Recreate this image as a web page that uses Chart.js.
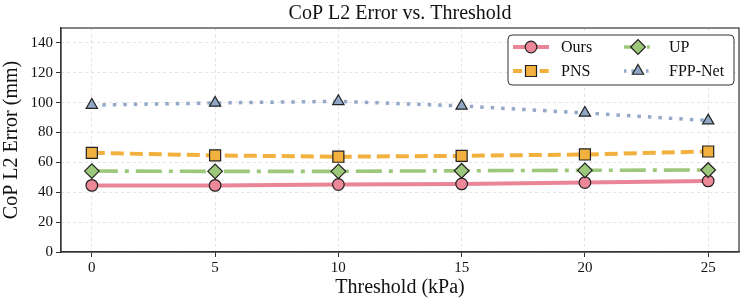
<!DOCTYPE html>
<html><head><meta charset="utf-8">
<script src="https://cdn.jsdelivr.net/npm/chart.js@4"></script>
<style>html,body{margin:0;padding:0;background:#fff}#wrap{width:748px;height:304px}</style>
</head><body><div id="wrap"><canvas id="c" width="748" height="304"></canvas></div>
<script>
const thresholds = [0, 5, 10, 15, 20, 25];
const seriesNames = ["Ours", "PNS", "UP", "FPP-Net"];
const oursValues = [44.6, 44.6, 45.2, 45.6, 46.5, 47.6];
const pnsValues  = [66.4, 64.7, 63.8, 64.4, 65.3, 67.3];
const upValues   = [54.2, 54.0, 54.0, 54.4, 54.7, 54.9];
const fppValues  = [98.4, 99.8, 100.9, 97.8, 93.1, 88.0];
const yTicks = [0, 20, 40, 60, 80, 100, 120, 140];
const xTicks = [0, 5, 10, 15, 20, 25];

const FONT = "'Liberation Serif','Times New Roman',serif";
const pts = v => v.map((y, i) => ({x: thresholds[i], y}));

const styles = [
  {color:'#e98597', fill:'#ec8898', dash:[], shape:'circle', radius:5.8, width:4},
  {color:'#f2b13f', fill:'#f2b13f', dash:[13,6], shape:'rect', radius:7.8, width:4},
  {color:'#9dc87b', fill:'#9dc87b', dash:[26,7,4,7], shape:'rectRot', radius:7.3, width:3.6},
  {color:'#93a9c7', fill:'#8fa6c4', dash:[3.5,7], shape:'triangle', radius:6.5, width:3.5}
];
const valueSets = [oursValues, pnsValues, upValues, fppValues];

const datasets = seriesNames.map((name, i) => ({
  label: name,
  data: pts(valueSets[i]),
  borderColor: styles[i].color,
  backgroundColor: styles[i].fill,
  borderWidth: styles[i].width,
  borderDash: styles[i].dash,
  pointStyle: styles[i].shape,
  pointRadius: styles[i].radius,
  pointBackgroundColor: styles[i].fill,
  pointBorderColor: '#222',
  pointBorderWidth: 1.2,
  tension: 0,
  order: 4 - i
}));

const framePlugin = {
  id: 'frame',
  afterDraw(chart) {
    const {ctx, chartArea: a} = chart;
    ctx.save();
    ctx.strokeStyle = '#333';
    ctx.lineWidth = 1.2;
    ctx.strokeRect(a.left, a.top, a.right - a.left, a.bottom - a.top);
    // legend
    const bx = 508, by = 35, bw = 226, bh = 50;
    ctx.fillStyle = 'rgba(255,255,255,0.85)';
    ctx.strokeStyle = '#333';
    ctx.lineWidth = 1;
    const r = 4;
    ctx.beginPath();
    ctx.moveTo(bx + r, by); ctx.lineTo(bx + bw - r, by); ctx.quadraticCurveTo(bx + bw, by, bx + bw, by + r);
    ctx.lineTo(bx + bw, by + bh - r); ctx.quadraticCurveTo(bx + bw, by + bh, bx + bw - r, by + bh);
    ctx.lineTo(bx + r, by + bh); ctx.quadraticCurveTo(bx, by + bh, bx, by + bh - r);
    ctx.lineTo(bx, by + r); ctx.quadraticCurveTo(bx, by, bx + r, by);
    ctx.closePath(); ctx.fill(); ctx.stroke();
    const pos = [
      {x0:513, x1:549, ty:47, tx:561},
      {x0:513, x1:549, ty:71, tx:561},
      {x0:624, x1:652, ty:47, tx:669},
      {x0:624, x1:652, ty:71, tx:669}
    ];
    chart.data.datasets.forEach((ds, i) => {
      const p = pos[i];
      ctx.save();
      ctx.strokeStyle = ds.borderColor;
      ctx.lineWidth = ds.borderWidth;
      ctx.setLineDash(ds.borderDash.length ? ds.borderDash.map(d => d * 0.7) : []);
      ctx.beginPath(); ctx.moveTo(p.x0, p.ty); ctx.lineTo(p.x1, p.ty); ctx.stroke();
      ctx.setLineDash([]);
      ctx.fillStyle = ds.pointBackgroundColor;
      ctx.strokeStyle = '#222';
      ctx.lineWidth = 1.2;
      Chart.helpers.drawPoint(ctx, {pointStyle: ds.pointStyle, radius: ds.pointRadius, borderWidth: 1.2}, (p.x0 + p.x1) / 2, p.ty);
      ctx.restore();
      ctx.fillStyle = '#111';
      ctx.font = '16px ' + FONT;
      ctx.textBaseline = 'middle';
      ctx.textAlign = 'left';
      ctx.fillText(ds.label, p.tx, p.ty + 1);
    });
    ctx.restore();
  }
};

const gridOpts = {color: '#dcdcdc', tickBorderDash: [], tickColor: '#333', tickLength: 5, lineWidth: 0.8, tickWidth: 1};
const borderOpts = {display: true, color: '#333', width: 1.2, dash: [3, 3]};

new Chart(document.getElementById('c'), {
  type: 'line',
  data: {datasets},
  plugins: [framePlugin],
  options: {
    responsive: false,
    animation: false,
    layout: {padding: {top: 0, right: 9, bottom: 0, left: 0}},
    plugins: {
      legend: {display: false},
      tooltip: {enabled: false},
      title: {
        display: true, text: 'CoP L2 Error vs. Threshold', color: '#111', fullSize: false,
        font: {family: FONT, size: 20, weight: 'normal'}, padding: {top: 2, bottom: 2}
      }
    },
    scales: {
      x: {
        type: 'linear', min: -1.25, max: 26.25,
        afterBuildTicks: s => { s.ticks = xTicks.map(v => ({value: v})); },
        afterFit: s => { s.height = 52; },
        ticks: {color: '#111', font: {family: FONT, size: 15}, padding: 2, maxRotation: 0},
        grid: gridOpts,
        border: borderOpts,
        title: {display: true, text: 'Threshold (kPa)', color: '#111', font: {family: FONT, size: 20}, padding: {top: 0, bottom: 4}}
      },
      y: {
        type: 'linear', min: 0, max: 150,
        afterBuildTicks: s => { s.ticks = yTicks.map(v => ({value: v})); },
        afterFit: s => { s.width = 61; },
        ticks: {color: '#111', font: {family: FONT, size: 15}, padding: 3},
        grid: gridOpts,
        border: borderOpts,
        title: {display: true, text: 'CoP L2 Error (mm)', color: '#111', font: {family: FONT, size: 20}, padding: {top: 0, bottom: 4}}
      }
    }
  }
});
</script></body></html>
